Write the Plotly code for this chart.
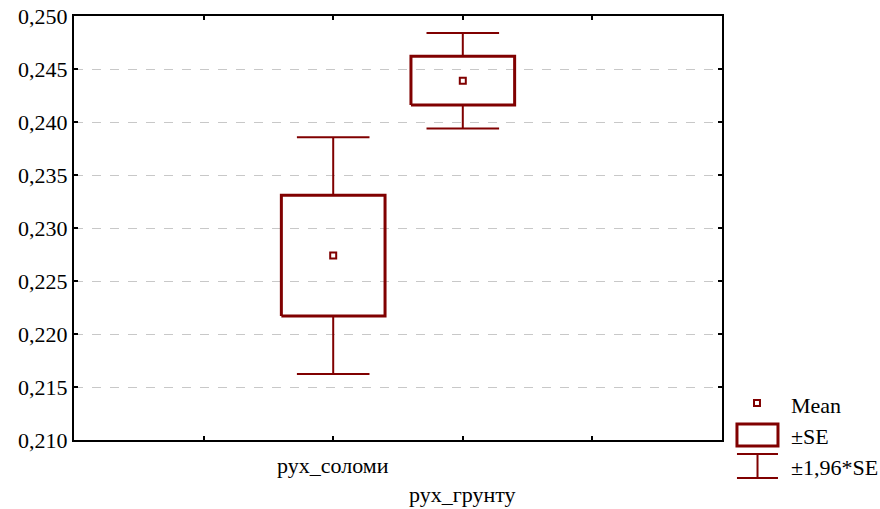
import plotly.graph_objects as go

# Group statistics: mean and standard error for each variable
categories = ["рух_соломи", "рух_грунту"]
positions = [2, 3]
means = [0.2274, 0.2439]
se = [0.0057, 0.0023]
z = 1.96

y_ticks = [0.210, 0.215, 0.220, 0.225, 0.230, 0.235, 0.240, 0.245, 0.250]
y_tick_labels = [f"{v:.3f}".replace(".", ",") for v in y_ticks]

RED = "#800000"
TXT = dict(family="Times New Roman", size=22)

box_half = 0.40
cap_half = 0.28

box_x, box_y = [], []
wh_x, wh_y = [], []
for p, m, s in zip(positions, means, se):
    lo, hi = m - s, m + s
    clo, chi = m - z * s, m + z * s
    box_x += [p - box_half, p + box_half, p + box_half, p - box_half, p - box_half, None]
    box_y += [lo, lo, hi, hi, lo, None]
    wh_x += [p, p, None, p, p, None,
             p - cap_half, p + cap_half, None, p - cap_half, p + cap_half, None]
    wh_y += [hi, chi, None, lo, clo, None,
             chi, chi, None, clo, clo, None]

fig = go.Figure()
fig.add_trace(go.Scatter(x=wh_x, y=wh_y, mode="lines",
                         line=dict(color=RED, width=2), hoverinfo="skip",
                         showlegend=False))
fig.add_trace(go.Scatter(x=box_x, y=box_y, mode="lines",
                         line=dict(color=RED, width=3), hoverinfo="skip",
                         showlegend=False))
fig.add_trace(go.Scatter(x=positions, y=means, mode="markers",
                         marker=dict(symbol="square", size=6, color="white",
                                     line=dict(color=RED, width=2)),
                         showlegend=False))

# Category labels, staggered under the axis
label_y = [-0.0613, -0.1297]
for p, name, ly in zip(positions, categories, label_y):
    fig.add_annotation(x=p, y=ly, xref="x", yref="paper", text=name,
                       showarrow=False, xanchor="center", yanchor="middle",
                       font=TXT)

# Legend drawn in the right margin
fig.add_shape(type="rect", xref="paper", yref="paper",
              x0=1.0494, x1=1.0586, y0=0.0802, y1=0.0943,
              line=dict(color=RED, width=2), fillcolor="white")
fig.add_shape(type="rect", xref="paper", yref="paper",
              x0=1.0231, x1=1.0864, y0=-0.0141, y1=0.0377,
              line=dict(color=RED, width=3), fillcolor="white")
for yy in (-0.0330, -0.0896):
    fig.add_shape(type="line", xref="paper", yref="paper",
                  x0=1.0231, x1=1.0864, y0=yy, y1=yy,
                  line=dict(color=RED, width=2))
fig.add_shape(type="line", xref="paper", yref="paper",
              x0=1.0548, x1=1.0548, y0=-0.0330, y1=-0.0896,
              line=dict(color=RED, width=2))
for txt, yy in (("Mean", 0.0825), ("±SE", 0.0071), ("±1,96*SE", -0.0637)):
    fig.add_annotation(x=1.1034, y=yy, xref="paper", yref="paper", text=txt,
                       showarrow=False, xanchor="left", yanchor="middle",
                       font=TXT)

fig.update_layout(
    width=880, height=509,
    margin=dict(l=74, r=158, t=16, b=69),
    paper_bgcolor="white", plot_bgcolor="white",
    font=dict(family="Times New Roman", size=22, color="black"),
    showlegend=False,
)
fig.update_xaxes(range=[0, 5], tickvals=[1, 2, 3, 4], showticklabels=False,
                 ticks="inside", ticklen=4, tickwidth=2, tickcolor="black",
                 showline=True, linecolor="black", linewidth=2, mirror="allticks",
                 showgrid=False, zeroline=False, automargin=False)
fig.update_yaxes(range=[0.210, 0.250], tickvals=y_ticks, ticktext=y_tick_labels,
                 ticks="inside", ticklen=4, tickwidth=2, tickcolor="black",
                 tickfont=TXT,
                 showline=True, linecolor="black", linewidth=2, mirror="allticks",
                 showgrid=True, gridcolor="#c8c8c8", gridwidth=1, griddash="dash",
                 zeroline=False, automargin=False)

fig.write_html("out.html")
